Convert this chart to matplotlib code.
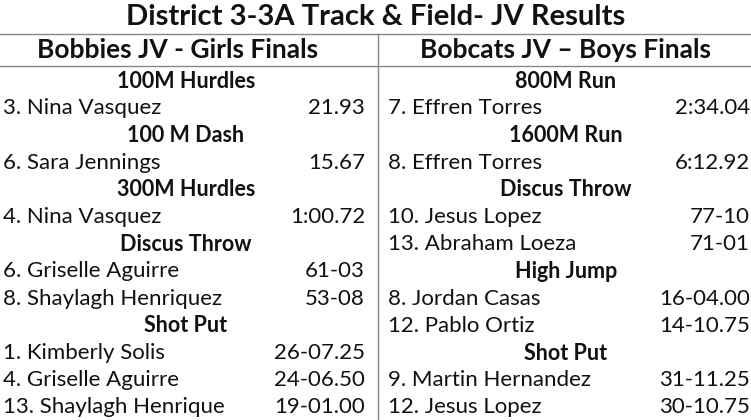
import matplotlib
matplotlib.use("Agg")
import matplotlib.pyplot as plt

title = "District 3-3A Track & Field- JV Results"
headers = ["Bobbies JV - Girls Finals", "Bobcats JV \u2013 Boys Finals"]
girls_rows = [("H", "100M Hurdles"), ("3. Nina Vasquez", "21.93"),
              ("H", "100 M Dash"), ("6. Sara Jennings", "15.67"),
              ("H", "300M Hurdles"), ("4. Nina Vasquez", "1:00.72"),
              ("H", "Discus Throw"), ("6. Griselle Aguirre", "61-03"),
              ("8. Shaylagh Henriquez", "53-08"),
              ("H", "Shot Put"), ("1. Kimberly Solis", "26-07.25"),
              ("4. Griselle Aguirre", "24-06.50"),
              ("13. Shaylagh Henrique", "19-01.00")]
boys_rows = [("H", "800M Run"), ("7. Effren Torres", "2:34.04"),
             ("H", "1600M Run"), ("8. Effren Torres", "6:12.92"),
             ("H", "Discus Throw"), ("10. Jesus Lopez", "77-10"),
             ("13. Abraham Loeza", "71-01"),
             ("H", "High Jump"), ("8. Jordan Casas", "16-04.00"),
             ("12. Pablo Ortiz", "14-10.75"),
             ("H", "Shot Put"), ("9. Martin Hernandez", "31-11.25"),
             ("12. Jesus Lopez", "30-10.75")]

W, H = 751, 420
fig = plt.figure(figsize=(W/100, H/100), dpi=100)
ax = fig.add_axes([0, 0, 1, 1])
ax.set_xlim(0, W); ax.set_ylim(H, 0); ax.axis("off")
font = "Lato"
ax.text(W/2, 17, title, ha="center", va="center", fontsize=21, fontweight="bold", family=font, color="#111111")
ax.plot([0, W], [33.5, 33.5], color="#888888", lw=1)
ax.plot([0, W], [66, 66], color="#888888", lw=1)
ax.plot([378, 378], [33.5, H], color="#888888", lw=1)
ax.text(178, 50, headers[0], ha="center", va="center", fontsize=19, fontweight="bold", family=font, color="#111111")
ax.text(566, 50, headers[1], ha="center", va="center", fontsize=19, fontweight="bold", family=font, color="#111111")

def draw(rows, x0, xc, xr):
    for i, (a, b) in enumerate(rows):
        y = 81 + i * 27.2
        if a == "H":
            ax.text(xc, y, b, ha="center", va="center", fontsize=15.5, fontweight="bold", family=font, color="#111111")
        else:
            ax.text(x0, y, a, ha="left", va="center", fontsize=16, family=font, color="#111111")
            ax.text(xr, y, b, ha="right", va="center", fontsize=16, family=font, color="#111111")

draw(girls_rows, 3, 186, 365)
draw(boys_rows, 388, 566, 750)
fig.savefig("out.png", dpi=100, facecolor="white")
